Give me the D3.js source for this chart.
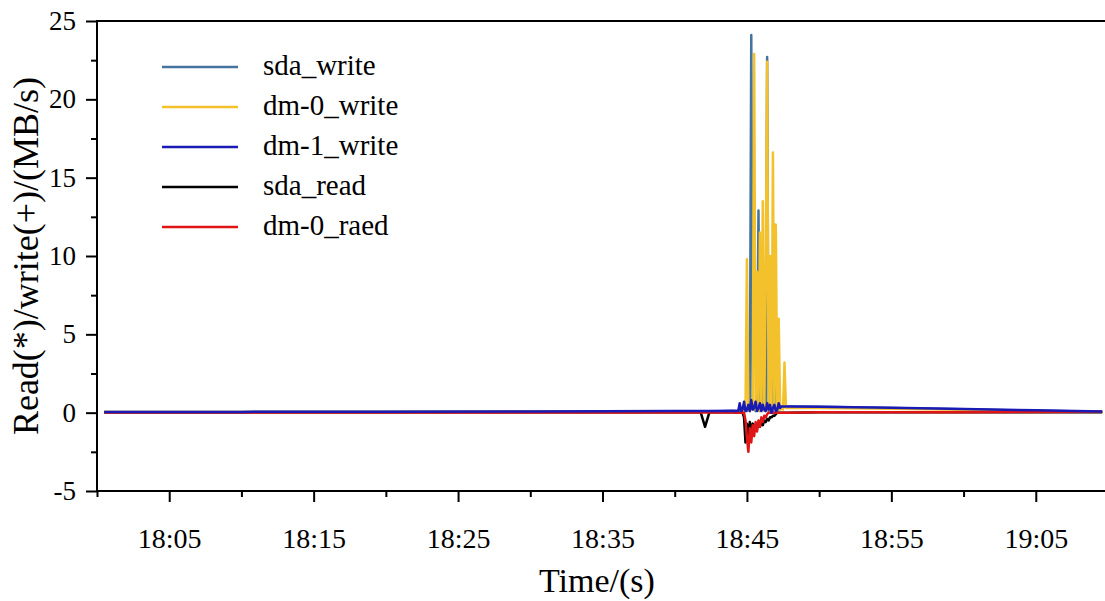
<!DOCTYPE html>
<html>
<head>
<meta charset="utf-8">
<script src="https://cdn.jsdelivr.net/npm/d3@7"></script>
<style>
	body { margin: 0; background: #fff; }
</style>
</head>
<body>
<div id="chart"></div>
<script>
// minutes after 18:00
var minutes = [
	0.5, 10, 20, 30, 40, 41.8, 42.1, 42.4, 44.0,
	44.4, 44.5, 44.6, 44.7, 44.8, 44.9, 45.0, 45.1, 45.2, 45.3, 45.4, 45.5,
	45.6, 45.7, 45.8, 45.9, 46.0, 46.1, 46.2, 46.3, 46.4, 46.5, 46.6, 46.7,
	46.8, 46.9, 47.0, 47.1, 47.2, 47.3, 47.4, 47.5, 47.6, 47.7, 47.8,
	50, 55, 60, 65, 69.6
];

var sdaWrite = [
	0.05, 0.05, 0.06, 0.07, 0.08, 0.08, 0.08, 0.08, 0.1,
	0.1, 0.2, 0.1, 0.3, 0.1, 0.2, 0.1, 0.3, 0.2, 24.1, 0.2, 0.3,
	0.1, 0.2, 12.9, 0.1, 10.5, 0.2, 0.3, 0.2, 22.7, 0.1, 0.3, 0.2,
	0.1, 12.0, 0.2, 0.3, 0.2, 0.4, 0.4, 0.4, 0.4, 0.4, 0.4,
	0.38, 0.3, 0.22, 0.12, 0.06
];

var dm0Write = [
	0.04, 0.04, 0.05, 0.06, 0.07, 0.07, 0.07, 0.07, 0.08,
	0.1, 0.1, 0.2, 0.1, 0.2, 0.1, 9.8, 0.2, 0.1, 0.3, 0.2, 22.9,
	0.2, 9.0, 0.1, 11.5, 0.2, 13.5, 0.1, 8.5, 22.4, 0.2, 10.0, 0.1,
	16.6, 0.2, 12.0, 0.1, 6.0, 0.2, 0.3, 0.2, 3.2, 0.3, 0.3,
	0.3, 0.25, 0.18, 0.1, 0.05
];

var dm1Write = [
	0.05, 0.05, 0.06, 0.08, 0.1, 0.1, 0.1, 0.1, 0.12,
	0.1, 0.6, 0.1, 0.2, 0.7, 0.1, 0.2, 0.5, 0.1, 0.8, 0.2, 0.3,
	0.7, 0.1, 0.3, 0.6, 0.1, 0.5, 0.2, 0.1, 0.6, 0.2, 0.5, 0.0,
	0.3, 0.5, 0.1, 0.2, 0.6, 0.3, 0.4, 0.4, 0.4, 0.4, 0.4,
	0.38, 0.32, 0.24, 0.15, 0.07
];

var sdaRead = [
	0.02, 0.02, 0.02, 0.02, 0.02, 0.02, -0.9, 0.02, 0.02,
	0, 0, 0, 0, -0.3, -1.9, -0.7, -1.4, -0.6, -1.2, -0.7, -1.1,
	-0.8, -1.0, -0.7, -0.9, -0.6, -0.8, -0.5, -0.6, -0.4, -0.5, -0.3, -0.3,
	-0.2, -0.2, -0.1, 0, 0, 0, 0, 0, 0, 0, 0,
	0.02, 0.02, 0.02, 0.02, 0.02
];

var dm0Read = [
	0.01, 0.01, 0.01, 0.01, 0.01, 0.01, 0.01, 0.01, 0.01,
	0, 0, 0, 0, 0, -0.5, -1.6, -2.5, -1.0, -1.9, -0.8, -1.5,
	-0.6, -1.2, -0.5, -0.9, -0.3, -0.6, -0.2, -0.3, -0.1, 0, 0, 0,
	0, 0, 0, 0, 0, 0, 0, 0, 0, 0, 0,
	0.02, 0.02, 0.03, 0.04, 0.06
];

var seriesNames = ["sda_write", "dm-0_write", "dm-1_write", "sda_read", "dm-0_raed"];
var seriesColors = ["#45739f", "#f2c12c", "#1a1ab4", "#000000", "#e01515"];
var xTickLabels = ["18:05", "18:15", "18:25", "18:35", "18:45", "18:55", "19:05"];
var yTicks = [-5, 0, 5, 10, 15, 20, 25];

var serif = "Liberation Serif";

document.addEventListener("DOMContentLoaded", function (e) {
	var width = 1105,
		height = 601;
	var left = 97,
		top = 21,
		bottom = 491,
		right = 1108;

	var parseTime = d3.timeParse("%H:%M");
	var start = parseTime("18:00");
	var toDate = function (m) {
		return new Date(start.getTime() + m * 60000);
	};

	var x = d3
		.scaleTime()
		.domain([start, toDate(70)])
		.range([left, right]);
	var y = d3.scaleLinear().domain([-5, 25]).range([bottom, top]);

	var svg = d3
		.select("#chart")
		.append("svg")
		.attr("width", width)
		.attr("height", height);

	var allSeries = [sdaWrite, dm0Write, dm1Write, sdaRead, dm0Read];
	// draw order: dm-1 on top like the original
	var drawOrder = [0, 1, 3, 4, 2];

	var line = d3
		.line()
		.x(function (d, i) {
			return x(toDate(minutes[i]));
		})
		.y(function (d) {
			return y(d);
		});

	drawOrder.forEach(function (k) {
		svg
			.append("path")
			.attr("d", line(allSeries[k]))
			.attr("fill", "none")
			.attr("stroke", seriesColors[k])
			.attr("stroke-width", 2.5)
			.attr("stroke-linejoin", "round");
	});

	// x axis: major ticks every 10 min, minor in between
	var xMajor = xTickLabels.map(parseTime);
	var xMinor = d3.range(0, 71, 10).map(toDate);
	var xAxis = svg.append("g").attr("transform", "translate(0," + bottom + ")");
	xAxis
		.call(
			d3
				.axisBottom(x)
				.tickValues(xMinor)
				.tickSize(6)
				.tickFormat("")
		)
		.call(function (g) {
			g.select(".domain").remove();
		});
	xAxis
		.append("g")
		.call(
			d3
				.axisBottom(x)
				.tickValues(xMajor)
				.tickSize(11)
				.tickPadding(26)
				.tickFormat(d3.timeFormat("%H:%M"))
		)
		.call(function (g) {
			g.select(".domain").remove();
			g.attr("font-family", serif).attr("font-size", 28);
		});
	xAxis.selectAll("line").attr("stroke", "#000").attr("stroke-width", 2);

	// y axis
	var yAxis = svg.append("g").attr("transform", "translate(" + left + ",0)");
	yAxis
		.call(
			d3
				.axisLeft(y)
				.tickValues(d3.range(-2.5, 25, 5))
				.tickSize(6)
				.tickFormat("")
		)
		.call(function (g) {
			g.select(".domain").remove();
		});
	yAxis
		.append("g")
		.call(
			d3
				.axisLeft(y)
				.tickValues(yTicks)
				.tickSize(11)
				.tickPadding(10)
				.tickFormat(function (d) {
					return String(d); // plain hyphen for -5
				})
		)
		.call(function (g) {
			g.select(".domain").remove();
			g.attr("font-family", serif).attr("font-size", 27);
		});
	yAxis.selectAll("line").attr("stroke", "#000").attr("stroke-width", 2);

	// frame lines
	svg
		.append("line")
		.attr("x1", left)
		.attr("x2", left)
		.attr("y1", top - 1)
		.attr("y2", bottom + 1)
		.attr("stroke", "#000")
		.attr("stroke-width", 2);
	svg
		.append("line")
		.attr("x1", left)
		.attr("x2", width)
		.attr("y1", bottom)
		.attr("y2", bottom)
		.attr("stroke", "#000")
		.attr("stroke-width", 2);
	svg
		.append("line")
		.attr("x1", left)
		.attr("x2", width)
		.attr("y1", top)
		.attr("y2", top)
		.attr("stroke", "#000")
		.attr("stroke-width", 2);

	// axis titles
	svg
		.append("text")
		.attr("x", 597)
		.attr("y", 592)
		.attr("text-anchor", "middle")
		.attr("font-family", serif)
		.attr("font-size", 34)
		.text("Time/(s)");
	svg
		.append("text")
		.attr("transform", "translate(38,256) rotate(-90)")
		.attr("text-anchor", "middle")
		.attr("font-family", serif)
		.attr("font-size", 36)
		.text("Read(*)/write(+)/(MB/s)");

	// legend
	var legend = svg.append("g");
	seriesNames.forEach(function (name, i) {
		var ly = 67 + i * 40;
		legend
			.append("line")
			.attr("x1", 162)
			.attr("x2", 238)
			.attr("y1", ly)
			.attr("y2", ly)
			.attr("stroke", seriesColors[i])
			.attr("stroke-width", 2.5);
		legend
			.append("text")
			.attr("x", 263)
			.attr("y", ly + 8)
			.attr("font-family", serif)
			.attr("font-size", 29)
			.text(name);
	});
});
</script>
</body>
</html>
